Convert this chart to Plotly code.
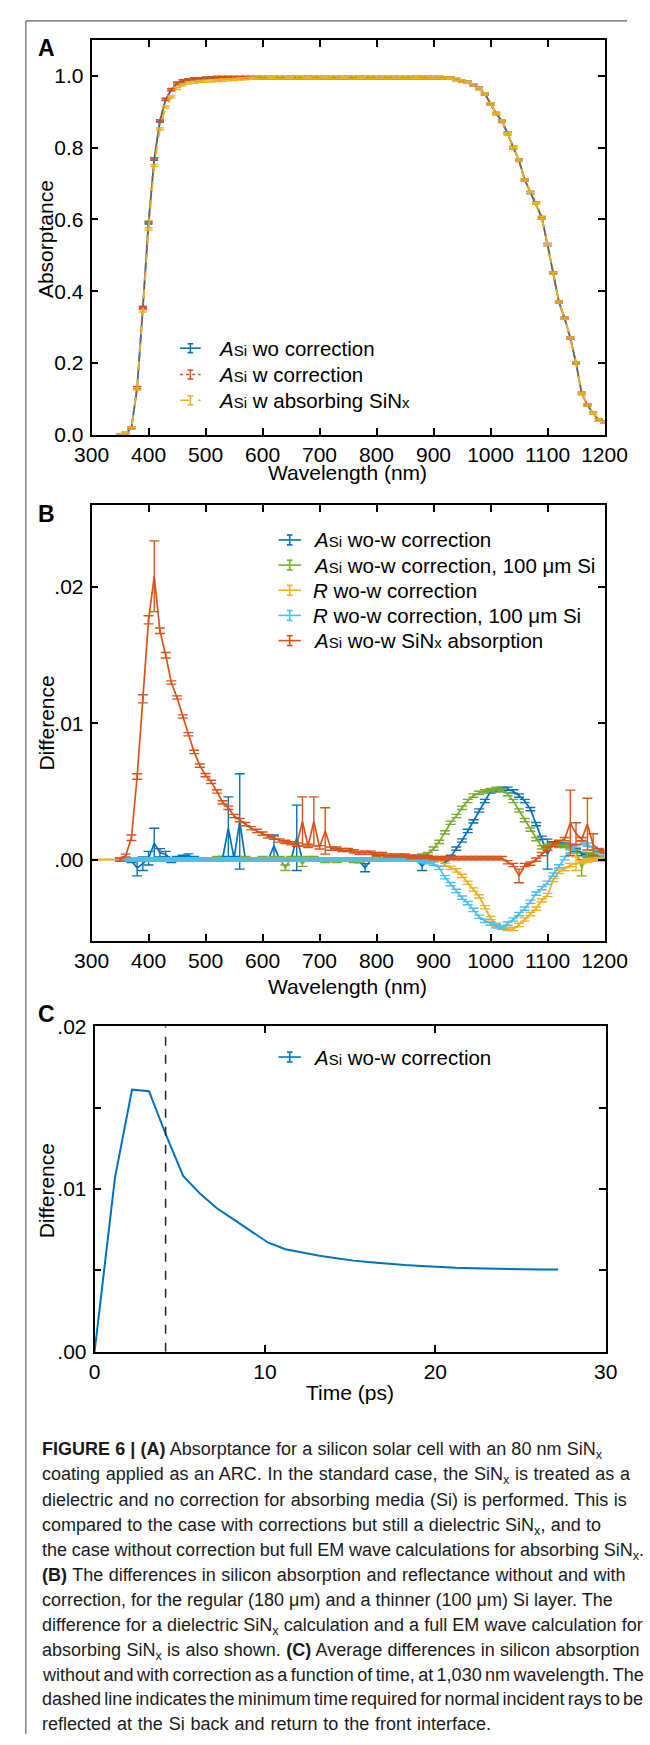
import plotly.graph_objects as go

FONT = "Liberation Sans, Arial, Helvetica, sans-serif"
W, H = 650, 1745


def fx(x):
    return x / W


def fy(y):
    return 1 - y / H


# ---------------- data ----------------
wavelength = [350, 360, 370, 380, 390, 400, 410, 420, 430, 440,
              450, 460, 470, 480, 490, 500, 510, 520, 530, 540,
              550, 560, 570, 580, 590, 600, 610, 620, 630, 640,
              650, 660, 670, 680, 690, 700, 710, 720, 730, 740,
              750, 760, 770, 780, 790, 800, 810, 820, 830, 840,
              850, 860, 870, 880, 890, 900, 910, 920, 930, 940,
              950, 960, 970, 980, 990, 1000, 1010, 1020, 1030, 1040,
              1050, 1060, 1070, 1080, 1090, 1100, 1110, 1120, 1130, 1140,
              1150, 1160, 1170, 1180, 1190, 1200]
wavelength_lead = [300, 310, 320, 330, 340]

# Panel A: absorptance
abs_wo = [0.000, 0.004, 0.020, 0.131, 0.353, 0.590, 0.768, 0.874, 0.934, 0.961,
          0.979, 0.986, 0.989, 0.991, 0.992, 0.993, 0.994, 0.995, 0.995, 0.995,
          0.995, 0.995, 0.995, 0.995, 0.995, 0.995, 0.995, 0.995, 0.995, 0.995,
          0.995, 0.995, 0.995, 0.995, 0.995, 0.995, 0.995, 0.995, 0.995, 0.995,
          0.995, 0.995, 0.995, 0.995, 0.995, 0.995, 0.995, 0.995, 0.995, 0.995,
          0.995, 0.995, 0.995, 0.995, 0.995, 0.995, 0.995, 0.994, 0.993, 0.990,
          0.986, 0.982, 0.975, 0.965, 0.950, 0.922, 0.895, 0.874, 0.840, 0.800,
          0.765, 0.710, 0.675, 0.645, 0.605, 0.530, 0.450, 0.370, 0.325, 0.270,
          0.200, 0.115, 0.083, 0.060, 0.041, 0.035]
abs_w = [0.000, 0.004, 0.020, 0.132, 0.355, 0.592, 0.769, 0.875, 0.935, 0.962,
         0.979, 0.986, 0.989, 0.991, 0.992, 0.993, 0.994, 0.995, 0.995, 0.995,
         0.995, 0.995, 0.995, 0.995, 0.995, 0.995, 0.995, 0.995, 0.995, 0.995,
         0.995, 0.995, 0.995, 0.995, 0.995, 0.995, 0.995, 0.995, 0.995, 0.995,
         0.995, 0.995, 0.995, 0.995, 0.995, 0.995, 0.995, 0.995, 0.995, 0.995,
         0.995, 0.995, 0.995, 0.995, 0.995, 0.995, 0.995, 0.994, 0.993, 0.990,
         0.986, 0.982, 0.975, 0.965, 0.950, 0.922, 0.895, 0.873, 0.839, 0.800,
         0.764, 0.710, 0.675, 0.645, 0.604, 0.530, 0.451, 0.370, 0.325, 0.270,
         0.201, 0.116, 0.083, 0.060, 0.041, 0.035]
abs_sinx = [0.000, 0.004, 0.019, 0.128, 0.345, 0.573, 0.750, 0.852, 0.913, 0.941,
            0.965, 0.975, 0.980, 0.982, 0.984, 0.985, 0.986, 0.987, 0.988, 0.989,
            0.990, 0.991, 0.992, 0.993, 0.994, 0.995, 0.995, 0.995, 0.995, 0.995,
            0.995, 0.995, 0.995, 0.995, 0.995, 0.995, 0.995, 0.995, 0.995, 0.995,
            0.995, 0.995, 0.995, 0.995, 0.995, 0.995, 0.995, 0.995, 0.995, 0.995,
            0.995, 0.995, 0.995, 0.995, 0.995, 0.995, 0.995, 0.994, 0.993, 0.990,
            0.986, 0.982, 0.975, 0.965, 0.950, 0.922, 0.895, 0.874, 0.840, 0.800,
            0.765, 0.710, 0.675, 0.645, 0.605, 0.530, 0.450, 0.370, 0.325, 0.270,
            0.200, 0.115, 0.083, 0.060, 0.041, 0.035]
ERR_A = 0.003

# Panel B: differences
d_asi = [0.0000, 0.0000, -0.0001, -0.0006, -0.0003, 0.0001, 0.0012, 0.0005, 0.0004, -0.0001,
         0.0001, 0.0002, 0.0003, 0.0001, 0.0000, 0.0000, 0.0000, 0.0000, 0.0001, 0.0023,
         0.0001, 0.0028, 0.0000, 0.0000, 0.0000, 0.0000, 0.0000, 0.0010, 0.0000, 0.0000,
         0.0000, 0.0016, 0.0000, 0.0000, 0.0000, 0.0000, 0.0000, 0.0000, 0.0000, 0.0000,
         0.0000, 0.0000, -0.0001, -0.0006, 0.0000, 0.0000, 0.0000, 0.0000, 0.0000, 0.0000,
         0.0000, 0.0000, 0.0000, -0.0005, 0.0000, 0.0000, 0.0000, -0.0003, 0.0002, 0.0008,
         0.0014, 0.0021, 0.0028, 0.0036, 0.0043, 0.0050, 0.0051, 0.0052, 0.0052, 0.0050,
         0.0047, 0.0043, 0.0037, 0.0026, 0.0016, 0.0004, 0.0012, 0.0011, 0.0011, 0.0010,
         0.0007, 0.0004, 0.0003, 0.0002, 0.0001, 0.0000]
d_asi_100 = [0.0000, 0.0000, 0.0000, 0.0000, 0.0000, 0.0000, 0.0000, 0.0000, 0.0000, 0.0000,
             0.0000, 0.0000, 0.0000, 0.0000, 0.0000, 0.0000, 0.0000, 0.0001, 0.0000, 0.0000,
             0.0000, 0.0000, 0.0001, 0.0000, 0.0000, 0.0001, 0.0000, 0.0001, 0.0001, -0.0006,
             0.0001, 0.0001, -0.0003, 0.0001, 0.0001, 0.0000, -0.0001, 0.0000, -0.0001, 0.0000,
             0.0000, -0.0001, -0.0001, 0.0000, 0.0000, 0.0001, 0.0000, 0.0001, 0.0001, 0.0001,
             0.0002, 0.0002, 0.0002, 0.0003, 0.0004, 0.0008, 0.0013, 0.0020, 0.0027, 0.0032,
             0.0038, 0.0043, 0.0047, 0.0049, 0.0050, 0.0051, 0.0052, 0.0051, 0.0048, 0.0043,
             0.0036, 0.0029, 0.0022, 0.0015, 0.0009, 0.0010, 0.0011, 0.0010, 0.0010, 0.0009,
             0.0006, -0.0006, 0.0004, 0.0003, 0.0002, 0.0001]
d_r = [0.0, 0.0, 0.0, 0.0, 0.0,
       0.0000, 0.0000, 0.0000, 0.0000, 0.0000, 0.0000, 0.0000, 0.0000, 0.0000, 0.0000,
       0.0000, 0.0000, 0.0000, 0.0000, 0.0000, 0.0000, 0.0000, 0.0000, 0.0000, 0.0000,
       0.0000, 0.0000, 0.0000, 0.0000, 0.0000, 0.0000, 0.0000, 0.0000, 0.0000, 0.0000,
       0.0000, 0.0000, 0.0000, 0.0000, 0.0000, 0.0000, 0.0000, 0.0000, 0.0000, 0.0000,
       0.0000, 0.0000, 0.0000, 0.0000, 0.0000, 0.0000, 0.0000, 0.0000, 0.0000, 0.0000,
       0.0000, 0.0000, 0.0000, 0.0000, 0.0000, 0.0000, 0.0000, -0.0004, -0.0006, -0.0008,
       -0.0012, -0.0017, -0.0022, -0.0027, -0.0035, -0.0043, -0.0048, -0.0050, -0.0051, -0.0051,
       -0.0048, -0.0044, -0.0040, -0.0036, -0.0030, -0.0026, -0.0015, -0.0009, -0.0007, -0.0004,
       -0.0003, -0.0002, -0.0001, 0.0000, 0.0000, 0.0000]
d_r_100 = [0.0000, 0.0000, 0.0000, 0.0000, 0.0000, 0.0000, 0.0000, 0.0000, 0.0000, 0.0000,
           0.0000, 0.0000, 0.0000, 0.0000, 0.0000, 0.0000, 0.0000, 0.0000, 0.0000, 0.0000,
           0.0000, 0.0000, 0.0000, 0.0000, 0.0000, 0.0000, 0.0000, 0.0000, 0.0000, 0.0000,
           0.0000, 0.0000, 0.0000, 0.0000, 0.0000, 0.0000, 0.0000, 0.0000, 0.0000, 0.0000,
           0.0000, 0.0000, 0.0000, 0.0000, 0.0000, 0.0000, 0.0000, 0.0000, 0.0000, 0.0000,
           0.0000, 0.0000, 0.0000, -0.0001, -0.0002, -0.0003, -0.0006, -0.0013, -0.0018, -0.0023,
           -0.0028, -0.0032, -0.0037, -0.0042, -0.0045, -0.0047, -0.0049, -0.0050, -0.0047, -0.0044,
           -0.0040, -0.0036, -0.0031, -0.0025, -0.0021, -0.0017, -0.0011, -0.0005, 0.0001, 0.0006,
           0.0010, 0.0012, 0.0011, 0.0008, 0.0006, 0.0004]
d_sinx = [0.0000, 0.0003, 0.0016, 0.0061, 0.0118, 0.0176, 0.0208, 0.0168, 0.0150, 0.0130,
          0.0119, 0.0105, 0.0092, 0.0079, 0.0069, 0.0062, 0.0057, 0.0050, 0.0042, 0.0038,
          0.0032, 0.0029, 0.0026, 0.0023, 0.0021, 0.0019, 0.0017, 0.0016, 0.0014, 0.0013,
          0.0012, 0.0011, 0.0028, 0.0010, 0.0028, 0.0009, 0.0021, 0.0008, 0.0008, 0.0007,
          0.0007, 0.0006, 0.0005, 0.0005, 0.0005, 0.0004, 0.0004, 0.0003, 0.0003, 0.0003,
          0.0003, 0.0002, 0.0002, 0.0002, 0.0002, 0.0001, 0.0001, 0.0001, 0.0001, 0.0001,
          0.0001, 0.0001, 0.0001, 0.0001, 0.0001, 0.0001, 0.0001, 0.0001, -0.0002, -0.0004,
          -0.0012, -0.0004, -0.0003, 0.0000, 0.0004, 0.0008, 0.0011, 0.0013, 0.0015, 0.0027,
          0.0019, 0.0015, 0.0026, 0.0011, 0.0007, 0.0006]

# error bars (index -> half-width); other points use the base value
err_asi_big = {3: 0.0006, 4: 0.0005, 5: 0.0005, 6: 0.0011, 7: 0.0003, 8: 0.0002, 19: 0.0023,
               21: 0.0035, 27: 0.0008, 31: 0.0024, 43: 0.0003, 53: 0.0003, 57: 0.0002, 75: 0.0011}
err_asi_100_big = {29: 0.0002, 32: 0.0002, 81: 0.0006}
err_r_big = {80: 0.0005}
err_sinx_big = {1: 0.0001, 2: 0.0002, 3: 0.0002, 4: 0.0003, 5: 0.0003, 6: 0.0026, 7: 0.0002,
                8: 0.0002, 32: 0.0018, 34: 0.0018, 36: 0.0017, 70: 0.0005, 79: 0.0024,
                80: 0.0008, 82: 0.0019, 83: 0.0008}
ERR_B_BASE = 0.00012

# Panel C
time_ps = [0, 1.2, 2.2, 3.2, 4.2, 5.2, 6.2, 7.2, 8.2, 9.2, 10.2, 11.2, 12.2, 13.2,
           14.2, 15.2, 16.2, 17.2, 18.2, 19.2, 20.2, 21.2, 22.2, 23.2, 24.2, 25.2, 26.2, 27.2]
diff_time = [0.0, 0.0107, 0.0161, 0.0160, 0.0133, 0.0108, 0.0097, 0.0088, 0.0081, 0.0074,
             0.0067, 0.0063, 0.0061, 0.0059, 0.00575, 0.0056, 0.0055, 0.0054, 0.00533,
             0.00527, 0.0052, 0.00516, 0.00513, 0.0051, 0.00508, 0.00506, 0.00505, 0.00505]
T_MIN_RETURN = 4.17

BLUE = "#0072BD"
RED = "#D95319"
YELLOW = "#EDB120"
GREEN = "#77AC30"
CYAN = "#4DBEEE"


def errs(big, n, base):
    return [big.get(i, base) for i in range(n)]


fig = go.Figure()

# ---- Panel A ----
for yv, col, dash in [(abs_wo, BLUE, "solid"), (abs_w, RED, "dot"), (abs_sinx, YELLOW, "dash")]:
    fig.add_trace(go.Scatter(
        x=wavelength, y=yv, mode="lines", xaxis="x", yaxis="y",
        line=dict(color=col, width=1.8, dash=dash),
        error_y=dict(type="constant", value=ERR_A, color=col, thickness=1.4, width=4),
        showlegend=False, hoverinfo="skip"))

# ---- Panel B ----
nB = len(wavelength)
b_series = [
    (wavelength, d_asi, BLUE, errs(err_asi_big, nB, ERR_B_BASE)),
    (wavelength, d_asi_100, GREEN, errs(err_asi_100_big, nB, ERR_B_BASE)),
    (wavelength_lead + wavelength, d_r, YELLOW,
     [0.0] * len(wavelength_lead) + errs(err_r_big, nB, ERR_B_BASE)),
    (wavelength, d_r_100, CYAN, errs({}, nB, ERR_B_BASE)),
    (wavelength, d_sinx, RED, errs(err_sinx_big, nB, ERR_B_BASE)),
]
for xv, yv, col, ev in b_series:
    fig.add_trace(go.Scatter(
        x=xv, y=yv, mode="lines", xaxis="x2", yaxis="y2",
        line=dict(color=col, width=1.7),
        error_y=dict(type="data", array=ev, color=col, thickness=1.4, width=5),
        showlegend=False, hoverinfo="skip"))

# ---- Panel C ----
fig.add_trace(go.Scatter(
    x=time_ps, y=diff_time, mode="lines", xaxis="x3", yaxis="y3",
    line=dict(color=BLUE, width=2), showlegend=False, hoverinfo="skip"))

axis_common = dict(showline=True, linecolor="black", linewidth=1.6, mirror="ticks",
                   ticks="inside", ticklen=7, tickwidth=1.5, tickcolor="black",
                   showgrid=False, zeroline=False,
                   tickfont=dict(size=21, family=FONT, color="black"))
xt = [300, 400, 500, 600, 700, 800, 900, 1000, 1100, 1200]

layout = dict(
    width=W, height=H, margin=dict(l=0, r=0, t=0, b=0),
    paper_bgcolor="white", plot_bgcolor="white", showlegend=False,
    font=dict(family=FONT, color="black"),
    xaxis=dict(domain=[fx(78.5), fx(626)], range=[300, 1200], tickvals=xt, anchor="y",
               ticklabelstandoff=0, **axis_common),
    yaxis=dict(domain=[fy(428.5), fy(28.3)], range=[0, 1.1],
               tickvals=[0, 0.2, 0.4, 0.6, 0.8, 1.0],
               ticktext=["0.0", "0.2", "0.4", "0.6", "0.8", "1.0"], anchor="x",
               ticklabelstandoff=2, **axis_common),
    xaxis2=dict(domain=[fx(78.5), fx(626)], range=[300, 1200], tickvals=xt, anchor="y2",
                ticklabelstandoff=0, **axis_common),
    yaxis2=dict(domain=[fy(941.7), fy(500)], range=[-0.006, 0.026],
                tickvals=[0, 0.01, 0.02], ticktext=[".00", ".01", ".02"], anchor="x2",
                ticklabelstandoff=2, **axis_common),
    xaxis3=dict(domain=[fx(81.7), fx(627.3)], range=[0, 30], tickvals=[0, 10, 20, 30],
                anchor="y3", ticklabelstandoff=0, **axis_common),
    yaxis3=dict(domain=[fy(1357.7), fy(1027.7)], range=[0, 0.02],
                tickvals=[0, 0.01, 0.02], ticktext=[".00", ".01", ".02"], anchor="x3",
                ticklabelstandoff=2,
                minor=dict(tickvals=[0.005, 0.015], ticks="inside", ticklen=7,
                           tickwidth=1.5, tickcolor="black", showgrid=False),
                **axis_common),
)
fig.update_layout(**layout)

shapes = []
annotations = []

# page frame
FRAME = "#8a8a8a"
shapes.append(dict(type="line", xref="paper", yref="paper", x0=fx(8.3), x1=1.0,
                   y0=fy(9), y1=fy(9), line=dict(color=FRAME, width=1.6)))
shapes.append(dict(type="line", xref="paper", yref="paper", x0=fx(8.3), x1=fx(8.3),
                   y0=fy(9), y1=0, line=dict(color=FRAME, width=1.6)))

# dashed line in C
shapes.append(dict(type="line", xref="x3", yref="y3", x0=T_MIN_RETURN, x1=T_MIN_RETURN,
                   y0=0, y1=0.02, line=dict(color="#222222", width=1.5, dash="dash")))


def icon(xc, y, col, dash="solid", half=11, hh=5, cap=3):
    shapes.append(dict(type="line", xref="paper", yref="paper", x0=fx(xc - half), x1=fx(xc + half),
                       y0=fy(y), y1=fy(y), line=dict(color=col, width=1.6, dash=dash)))
    shapes.append(dict(type="line", xref="paper", yref="paper", x0=fx(xc), x1=fx(xc),
                       y0=fy(y - hh), y1=fy(y + hh), line=dict(color=col, width=1.6)))
    for yy in (y - hh, y + hh):
        shapes.append(dict(type="line", xref="paper", yref="paper", x0=fx(xc - cap), x1=fx(xc + cap),
                           y0=fy(yy), y1=fy(yy), line=dict(color=col, width=1.6)))


def text(x, y, s, size=21, xanchor="left", yanchor="middle", angle=0, color="black"):
    annotations.append(dict(x=fx(x), y=fy(y), xref="paper", yref="paper", text=s,
                            showarrow=False, xanchor=xanchor, yanchor=yanchor, textangle=angle,
                            font=dict(family=FONT, size=size, color=color)))


LEG_FS = 20.5
SI = "<i>A</i><span style='font-size:15px'>Si</span>"
XS = "<span style='font-size:15px'>x</span>"

# legend A
legA = [(340.7, BLUE, "solid", SI + " wo correction"),
        (367.4, RED, "dot", SI + " w correction"),
        (393.5, YELLOW, "dash", SI + " w absorbing SiN" + XS)]
for y, col, dash, s in legA:
    icon(184, y, col, dash, half=11, hh=4.5, cap=3)
    text(211, y, s, size=LEG_FS)

# legend B
legB = [(535, BLUE, SI + " wo-w correction"),
        (560.5, GREEN, SI + " wo-w correction, 100 μm Si"),
        (586, YELLOW, "<i>R</i> wo-w correction"),
        (611.5, CYAN, "<i>R</i> wo-w correction, 100 μm Si"),
        (637, RED, SI + " wo-w SiN" + XS + " absorption")]
for y, col, s in legB:
    icon(290, y, col, half=12, hh=5, cap=3)
    text(313, y, s, size=LEG_FS)

# legend C
icon(290, 1059, BLUE, half=12, hh=5, cap=3)
text(313, 1059, SI + " wo-w correction", size=LEG_FS)

# panel letters
text(19, 36, "<b>A</b>", size=23)
text(19, 508.5, "<b>B</b>", size=23)
text(19, 1015.5, "<b>C</b>", size=23)

# axis titles
text(352, 467, "Wavelength (nm)", size=21, xanchor="center")
text(352, 987.5, "Wavelength (nm)", size=21, xanchor="center")
text(354, 1398.5, "Time (ps)", size=21, xanchor="center")
text(30, 230, "Absorptance", size=21, xanchor="center", angle=-90)
text(30, 721, "Difference", size=21, xanchor="center", angle=-90)
text(30, 1195, "Difference", size=21, xanchor="center", angle=-90)

# ---- caption (lines with their measured right ends) ----
AR = {' ': 278, ',': 278, '.': 278, '(': 333, ')': 333, '|': 260, '-': 333, 'μ': 576,
      'a': 556, 'b': 556, 'c': 500, 'd': 556, 'e': 556, 'f': 278, 'g': 556, 'h': 556,
      'i': 222, 'j': 222, 'k': 500, 'l': 222, 'm': 833, 'n': 556, 'o': 556, 'p': 556,
      'q': 556, 'r': 333, 's': 500, 't': 278, 'u': 556, 'v': 500, 'w': 722, 'x': 500,
      'y': 500, 'z': 500, 'A': 667, 'B': 667, 'C': 722, 'D': 722, 'E': 667, 'F': 611,
      'G': 778, 'H': 722, 'I': 278, 'M': 833, 'N': 722, 'R': 722, 'S': 667, 'T': 611,
      'U': 722, 'W': 944}
AR_B = {' ': 278, '(': 333, ')': 333, '|': 280, 'A': 722, 'B': 722, 'C': 722, 'E': 667,
        'F': 611, 'G': 778, 'I': 278, 'R': 722, 'U': 722}

caption = [
    ([("FIGURE 6 | (A)", "b"), (" Absorptance for a silicon solar cell with an 80 nm SiN", ""), ("x", "sub")], 585),
    ([("coating applied as an ARC. In the standard case, the SiN", ""), ("x", "sub"), (" is treated as a", "")], 613),
    ([("dielectric and no correction for absorbing media (Si) is performed. This is", "")], 609),
    ([("compared to the case with corrections but still a dielectric SiN", ""), ("x", "sub"), (", and to", "")], 583),
    ([("the case without correction but full EM wave calculations for absorbing SiN", ""), ("x", "sub"), (".", "")], 626),
    ([("(B)", "b"), (" The differences in silicon absorption and reflectance without and with", "")], 608),
    ([("correction, for the regular (180 μm) and a thinner (100 μm) Si layer. The", "")], 596),
    ([("difference for a dielectric SiN", ""), ("x", "sub"), (" calculation and a full EM wave calculation for", "")], 625),
    ([("absorbing SiN", ""), ("x", "sub"), (" is also shown. ", ""), ("(C)", "b"), (" Average differences in silicon absorption", "")], 623),
    ([("without and with correction as a function of time, at 1,030 nm wavelength. The", "")], 625),
    ([("dashed line indicates the minimum time required for normal incident rays to be", "")], 625),
    ([("reflected at the Si back and return to the front interface.", "")], 473),
]
cap_y = [1455, 1480.7, 1506.3, 1531.7, 1557, 1582.3, 1607.5, 1632.8, 1658.2, 1683.4, 1708.6, 1733.8]
CAP_FS = 18
CAP_X0 = 24

for (segs, xend), yc in zip(caption, cap_y):
    wsum = 0.0
    nsp = 0
    html = ""
    for t, kind in segs:
        if kind == "b":
            wsum += sum(AR_B.get(c, AR.get(c, 556)) for c in t) * CAP_FS / 1000
            html += "<b>" + t + "</b>"
        elif kind == "sub":
            wsum += sum(AR.get(c, 556) for c in t) * CAP_FS * 0.7 / 1000
            html += "<sub>" + t + "</sub>"
        else:
            wsum += sum(AR.get(c, 556) for c in t) * CAP_FS / 1000
            html += t
        nsp += t.count(" ")
    ws = (xend - CAP_X0 - wsum) / max(nsp, 1)
    s = "<span style='word-spacing:%.2fpx'>%s</span>" % (ws, html)
    text(CAP_X0 - 1, yc - 0.547 * CAP_FS - 1, s, size=CAP_FS, yanchor="top", color="#1a1a1a")

fig.update_layout(shapes=shapes, annotations=annotations)
fig.write_html("out.html", config={"displayModeBar": False},
               post_script="document.body.style.margin='0';document.body.style.overflow='hidden';")
